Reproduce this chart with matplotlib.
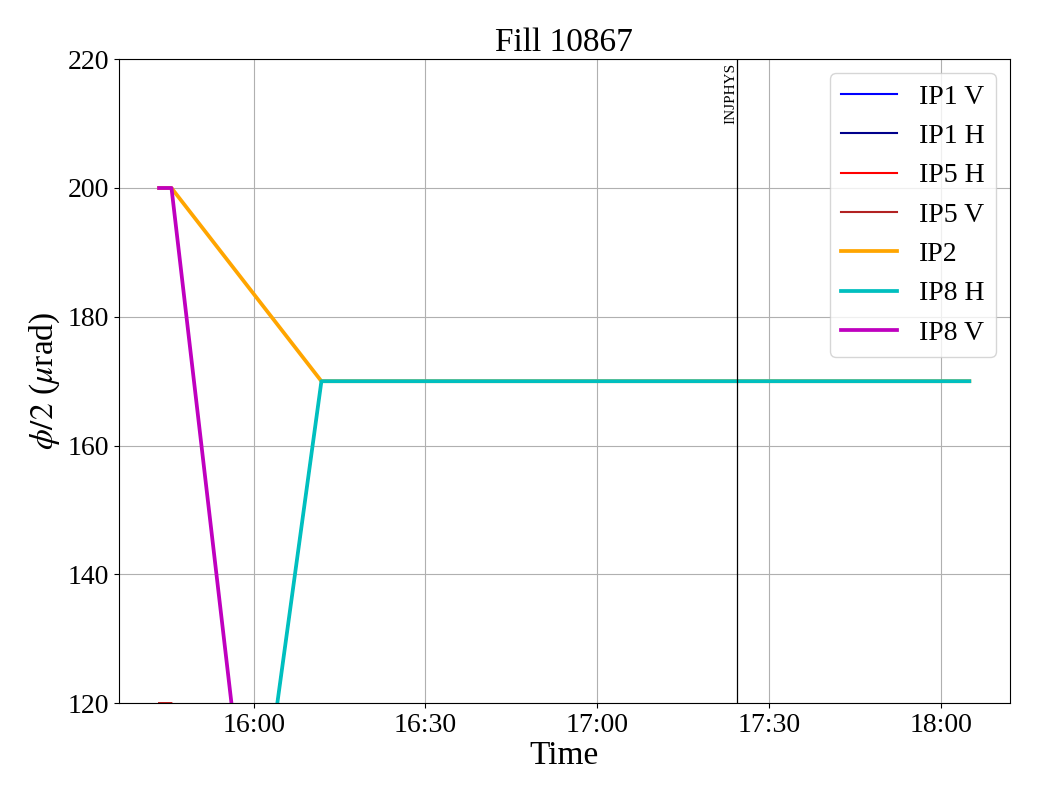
import numpy as np
import pandas as pd
import matplotlib
matplotlib.use("Agg")
import matplotlib.pyplot as plt
import matplotlib.dates as mdates

plt.rcParams['font.family'] = ['Liberation Serif', 'DejaVu Serif']
plt.rcParams['mathtext.fontset'] = 'stix'

fill_number = 10867

# time points of the crossing-angle steps
times = pd.to_datetime(['2025-06-01 15:43:30', '2025-06-01 15:45:40',
                        '2025-06-01 16:11:50', '2025-06-01 18:04:55'])

# half crossing angle (urad) per IP
ip1_v = [0, 0, 170, 170]
ip1_h = [0, 0, 170, 170]
ip5_h = [120, 120, 0, 0]
ip5_v = [120, 120, 0, 0]
ip2 = [200, 200, 170, 170]
ip8_h = [0, 0, 170, 170]
ip8_v = [200, 200, 0, 0]

mode_time = pd.Timestamp('2025-06-01 17:24:25')
mode_name = 'INJPHYS'

fig, ax = plt.subplots(figsize=(10.4, 8), dpi=100)
fig.subplots_adjust(left=0.114, right=0.971, top=0.926, bottom=0.121)

ax.plot(times, ip1_v, color='blue', lw=1.5, label='IP1 V')
ax.plot(times, ip1_h, color='darkblue', lw=1.5, label='IP1 H')
ax.plot(times, ip5_h, color='red', lw=1.5, label='IP5 H')
ax.plot(times, ip5_v, color='firebrick', lw=1.5, label='IP5 V')
ax.plot(times, ip2, color='orange', lw=2.7, label='IP2')
ax.plot(times, ip8_h, color='c', lw=2.7, label='IP8 H')
ax.plot(times, ip8_v, color='m', lw=2.7, label='IP8 V')

ax.axvline(mode_time, color='black', lw=0.9)
ax.text(mode_time, 219.5, mode_name, rotation=90, ha='right', va='top', fontsize=11)

ax.set_ylim(120, 220)
ax.xaxis.set_major_locator(mdates.MinuteLocator(byminute=[0, 30]))
ax.xaxis.set_major_formatter(mdates.DateFormatter('%H:%M'))
ax.tick_params(labelsize=20)
ax.grid(True)

ax.set_title(f'Fill {fill_number}', fontsize=24)
ax.set_xlabel('Time', fontsize=24, labelpad=2)
ax.set_ylabel(r'$\phi/2$ ($\mu$rad)', fontsize=24)
ax.legend(loc='upper right', fontsize=20)

plt.savefig('out.png')
